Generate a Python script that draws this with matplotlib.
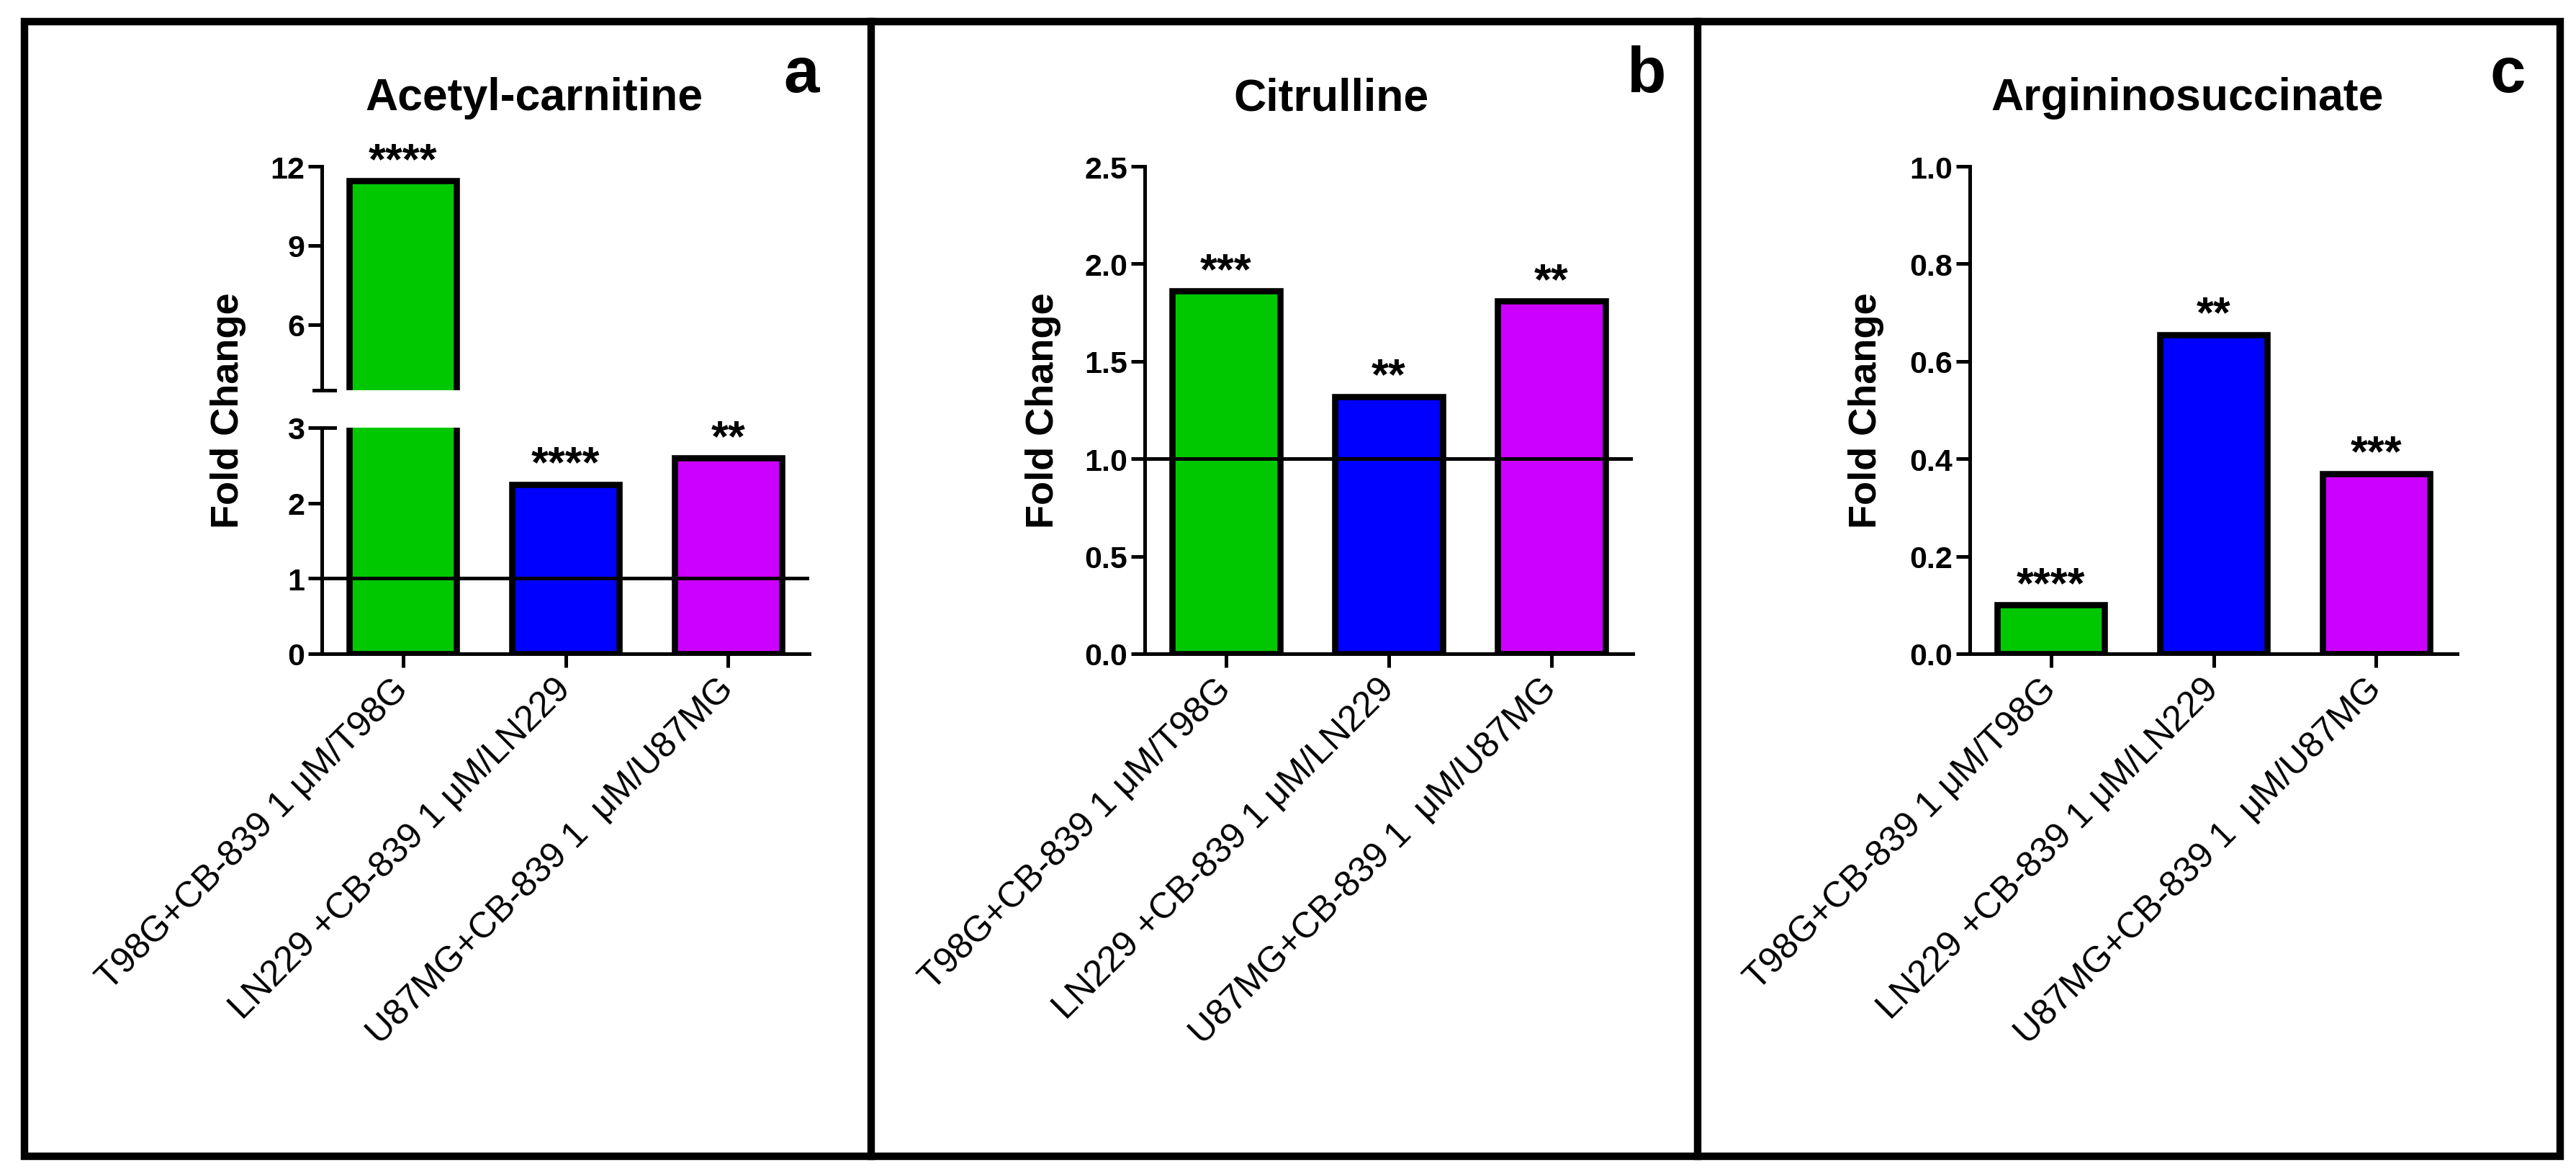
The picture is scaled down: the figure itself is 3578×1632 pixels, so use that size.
import matplotlib
matplotlib.use("Agg")
import matplotlib.pyplot as plt
from matplotlib.lines import Line2D
from matplotlib.patches import Rectangle

plt.rcParams["font.family"] = ["Liberation Sans", "DejaVu Sans"]

# data
groups = ["T98G+CB-839 1 \u03bcM/T98G", "LN229 +CB-839 1 \u03bcM/LN229", "U87MG+CB-839 1  \u03bcM/U87MG"]
colors = ["#00C800", "#0000FF", "#CC00FF"]

acetyl = [11.45, 2.25, 2.6]
citrulline = [1.86, 1.32, 1.81]
argsucc = [0.10, 0.655, 0.37]

stars_acetyl = ["****", "****", "**"]
stars_citrulline = ["***", "**", "**"]
stars_argsucc = ["****", "**", "***"]

titles = ["Acetyl-carnitine", "Citrulline", "Argininosuccinate"]
letters = ["a", "b", "c"]

W, H = 3578, 1633
fig = plt.figure(figsize=(W / 100, H / 100), dpi=100)
fig.patch.set_facecolor("white")

LW_AX = 3.6
LW_BAR = 6.2
x = range(len(groups))


def add_ax(left, top, right, bottom):
    return fig.add_axes([left / W, 1 - bottom / H, (right - left) / W, (bottom - top) / H])


def style(ax, bottom=True):
    for s in ["top", "right"]:
        ax.spines[s].set_visible(False)
    ax.spines["left"].set_linewidth(LW_AX)
    ax.spines["bottom"].set_linewidth(LW_AX)
    if not bottom:
        ax.spines["bottom"].set_visible(False)
    ax.set_facecolor("none")
    ax.tick_params(axis="y", length=14, width=LW_AX, pad=3, labelsize=31)
    ax.tick_params(axis="x", length=14, width=LW_AX)
    for t in ax.get_yticklabels():
        t.set_fontweight("bold")
    ax.set_xlim(-0.5, 2.5)


def bars(ax, vals):
    ax.bar(x, vals, width=0.66, color=colors, edgecolor="black", linewidth=LW_BAR, zorder=2)


def stars(ax, idx, vals, labels):
    for i in idx:
        ax.annotate(labels[i], (i, vals[i]), xytext=(0, 8), textcoords="offset points",
                    ha="center", va="baseline", fontsize=44, fontweight="bold")


def xlabels(ax):
    ax.set_xticks(list(x))
    ax.set_xticklabels(groups, rotation=45, rotation_mode="anchor", ha="right", va="center", fontsize=36)
    ax.tick_params(axis="x", pad=16)


# panel a: broken y axis
top_a = add_ax(447, 232, 1124, 543)
low_a = add_ax(447, 595, 1124, 909)
for ax in (top_a, low_a):
    bars(ax, acetyl)
top_a.set_ylim(3.5, 12)
top_a.set_yticks([6, 9, 12])
top_a.set_xticks([])
low_a.set_ylim(0, 3)
low_a.set_yticks([0, 1, 2, 3])
style(top_a, bottom=False)
style(low_a)
low_a.axhline(1, color="black", lw=LW_AX, zorder=3)
xlabels(low_a)
stars(top_a, [0], acetyl, stars_acetyl)
stars(low_a, [1, 2], acetyl, stars_acetyl)
for ax, yy in ((top_a, 0), (low_a, 1)):
    ax.add_line(Line2D([-0.016, 0.026], [yy, yy], transform=ax.transAxes, color="black",
                       lw=LW_AX, clip_on=False))

# panel b
ax_b = add_ax(1590, 232, 2268, 909)
bars(ax_b, citrulline)
ax_b.set_ylim(0, 2.5)
ax_b.set_yticks([0, 0.5, 1.0, 1.5, 2.0, 2.5])
ax_b.set_yticklabels(["0.0", "0.5", "1.0", "1.5", "2.0", "2.5"])
style(ax_b)
ax_b.axhline(1, color="black", lw=LW_AX, zorder=3)
xlabels(ax_b)
stars(ax_b, [0, 1, 2], citrulline, stars_citrulline)

# panel c
ax_c = add_ax(2736, 232, 3413, 909)
bars(ax_c, argsucc)
ax_c.set_ylim(0, 1.0)
ax_c.set_yticks([0, 0.2, 0.4, 0.6, 0.8, 1.0])
ax_c.set_yticklabels(["0.0", "0.2", "0.4", "0.6", "0.8", "1.0"])
style(ax_c)
xlabels(ax_c)
stars(ax_c, [0, 1, 2], argsucc, stars_argsucc)

# titles, letters, y labels
title_x = [742, 1849, 3038]
letter_x = [1113, 2286, 3483]
ylab_x = [317, 1449, 2592]
for i in range(3):
    fig.text(title_x[i] / W, 1 - 153 / H, titles[i], ha="center", va="baseline",
             fontsize=45, fontweight="bold")
    fig.text(letter_x[i] / W, 1 - 128 / H, letters[i], ha="center", va="baseline",
             fontsize=64, fontweight="bold")
    fig.text(ylab_x[i] / W, 1 - 570 / H, "Fold Change", ha="center", va="center",
             rotation=90, fontsize=39, fontweight="bold")

# panel frames
fig.add_artist(Rectangle((34 / W, 1 - 1607 / H), (3556 - 34) / W, (1607 - 31) / H,
                         transform=fig.transFigure, fill=False, lw=7.5, edgecolor="black"))
for xd in (1210, 2358):
    fig.add_artist(Line2D([xd / W, xd / W], [1 - 1607 / H, 1 - 31 / H], transform=fig.transFigure,
                          color="black", lw=7.5))

fig.savefig("out.png", dpi=100)
